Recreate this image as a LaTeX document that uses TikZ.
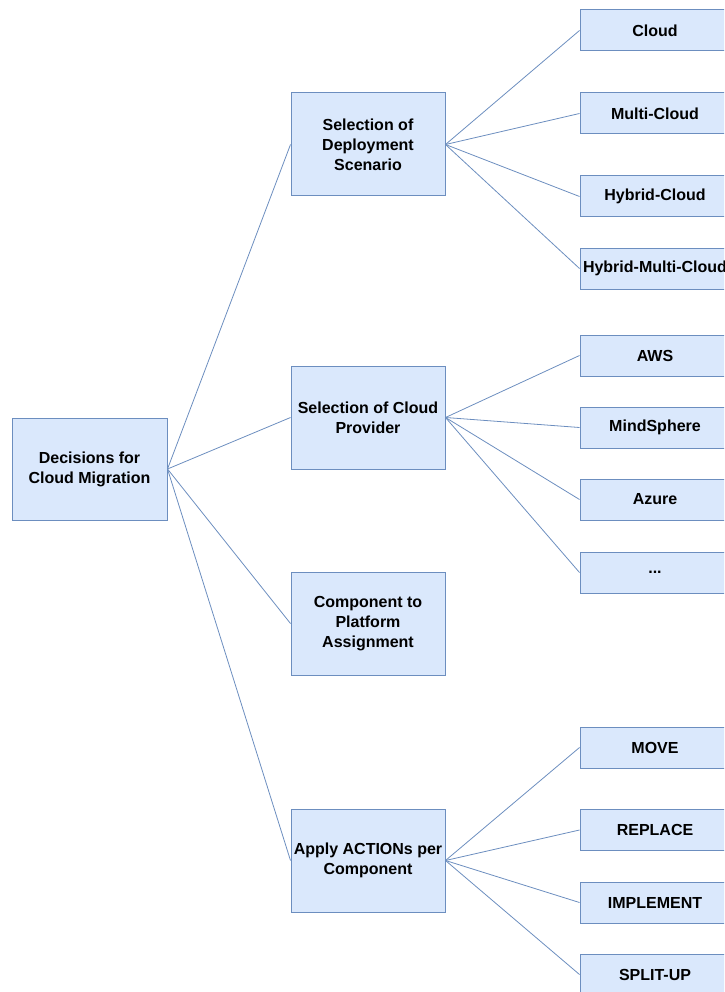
\documentclass[tikz,border=0pt]{standalone}
\usepackage{fontspec}
\setmainfont{Liberation Sans}
\begin{document}
\begin{tikzpicture}[x=1pt,y=-1pt,
  box/.style={draw=boxline, fill=boxfill, line width=1pt, inner sep=0pt,
    align=center, font=\bfseries\fontsize{16}{20}\selectfont},
  mid/.style={box, minimum width=154pt, minimum height=103pt},
  leaf/.style={box, minimum width=150pt, minimum height=41pt},
  link/.style={draw=boxline, line width=0.8pt}]
\definecolor{boxfill}{HTML}{DAE8FC}
\definecolor{boxline}{HTML}{6C8EBF}
\useasboundingbox (0,0) rectangle (724,992);
\clip (0,0) rectangle (724,992);

% root
\node[box, minimum width=155pt, minimum height=102pt] (root) at (89.5,469) {Decisions for\\Cloud Migration};

% second level
\node[mid] (dep)  at (368,144.5) {Selection of\\Deployment\\Scenario};
\node[mid] (prov) at (368,417.5) {Selection of Cloud\\Provider};
\node[mid] (comp) at (368,623.5) {Component to\\Platform\\Assignment};
\node[mid] (act)  at (368,860.5) {Apply ACTIONs per\\Component};

% deployment scenarios
\node[leaf] (cloud)  at (655,30.5)  {Cloud};
\node[leaf] (multi)  at (655,113.5) {Multi-Cloud};
\node[leaf] (hybrid) at (655,196.5) {Hybrid-Cloud};
\node[leaf] (hmulti) at (655,268.5) {Hybrid-Multi-Cloud};

% providers
\node[leaf] (aws)    at (655,355.5) {AWS};
\node[leaf] (mind)   at (655,427.5) {MindSphere};
\node[leaf] (azure)  at (655,499.5) {Azure};
\node[leaf] (more)   at (655,572.5) {...};

% actions
\node[leaf] (move)   at (655,747.5) {MOVE};
\node[leaf] (repl)   at (655,830)   {REPLACE};
\node[leaf] (impl)   at (655,902.5) {IMPLEMENT};
\node[leaf] (split)  at (655,974.5) {SPLIT-UP};

% connectors
\foreach \t in {dep,prov,comp,act}
  \draw[link] (root.east) -- (\t.west);
\foreach \t in {cloud,multi,hybrid,hmulti}
  \draw[link] (dep.east) -- (\t.west);
\foreach \t in {aws,mind,azure,more}
  \draw[link] (prov.east) -- (\t.west);
\foreach \t in {move,repl,impl,split}
  \draw[link] (act.east) -- (\t.west);
\end{tikzpicture}
\end{document}
